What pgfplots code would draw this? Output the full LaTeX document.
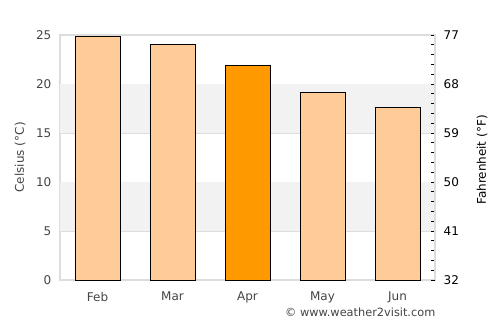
\documentclass[border=0pt]{standalone}
\usepackage{pgfplots}
\pgfplotsset{compat=1.18}
\usepackage{fontspec}
\setmainfont{DejaVu Sans}
\definecolor{peach}{HTML}{FFCC99}
\definecolor{orng}{HTML}{FF9900}
\definecolor{gridc}{HTML}{DDDDDD}
\definecolor{band}{HTML}{F2F2F2}
\definecolor{txt}{HTML}{444444}
\begin{document}
\begin{tikzpicture}
\path[use as bounding box] (-45pt,-33.75pt) rectangle (330pt,210pt);
\begin{axis}[
  scale only axis, width=281.25pt, height=183.75pt,
  xmin=-0.5, xmax=4.5, ymin=0, ymax=25,
  xtick={0,1,2,3,4}, xticklabels={Feb,Mar,Apr,May,Jun},
  ytick={0,5,10,15,20,25},
  major tick length=0pt,
  ymajorgrids, grid style={gridc, line width=0.6pt},
  axis line style={gridc, line width=0.8pt},
  ticklabel style={font=\fontsize{9}{11}\selectfont, text=txt},
  /pgf/number format/assume math mode=true,
  xticklabel style={yshift=-5.5pt},
  yticklabel style={xshift=-3pt},
  clip=false,
]
\fill[band] (axis cs:-0.5,5) rectangle (axis cs:4.5,10);
\fill[band] (axis cs:-0.5,15) rectangle (axis cs:4.5,20);
\addplot[ybar, bar width=0.6, fill=peach, draw=black, line width=0.7pt] coordinates {(0,24.9) (1,24.0) (3,19.1) (4,17.6)};
\addplot[ybar, bar width=0.6, fill=orng, draw=black, line width=0.7pt] coordinates {(2,21.9)};
\end{axis}
\begin{axis}[
  scale only axis, width=281.25pt, height=183.75pt,
  xmin=-0.5, xmax=4.5, ymin=32, ymax=77,
  hide x axis,
  axis y line*=right,
  ytick={32,41,50,59,68,77},
  minor ytick={33.8,35.6,37.4,39.2,42.8,44.6,46.4,48.2,51.8,53.6,55.4,57.2,60.8,62.6,64.4,66.2,69.8,71.6,73.4,75.2},
  tick align=inside,
  major tick length=3pt, minor tick length=3pt,
  tick style={black, line width=0.6pt},
  axis line style={gridc, line width=0.8pt},
  ticklabel style={font=\fontsize{9}{11}\selectfont, text=black},
  /pgf/number format/assume math mode=true,
  yticklabel style={xshift=3pt},
]
\end{axis}
\node[rotate=90, font=\fontsize{9}{11}\selectfont, text=txt] at (-30pt,92pt) {Celsius (°C)};
\node[rotate=90, font=\fontsize{9}{11}\selectfont, text=black] at (316.5pt,90pt) {Fahrenheit (°F)};
\node[anchor=base east, font=\fontsize{8.5}{10}\selectfont, text=txt] at (285pt,-27.5pt) {© www.weather2visit.com};
\end{tikzpicture}
\end{document}
